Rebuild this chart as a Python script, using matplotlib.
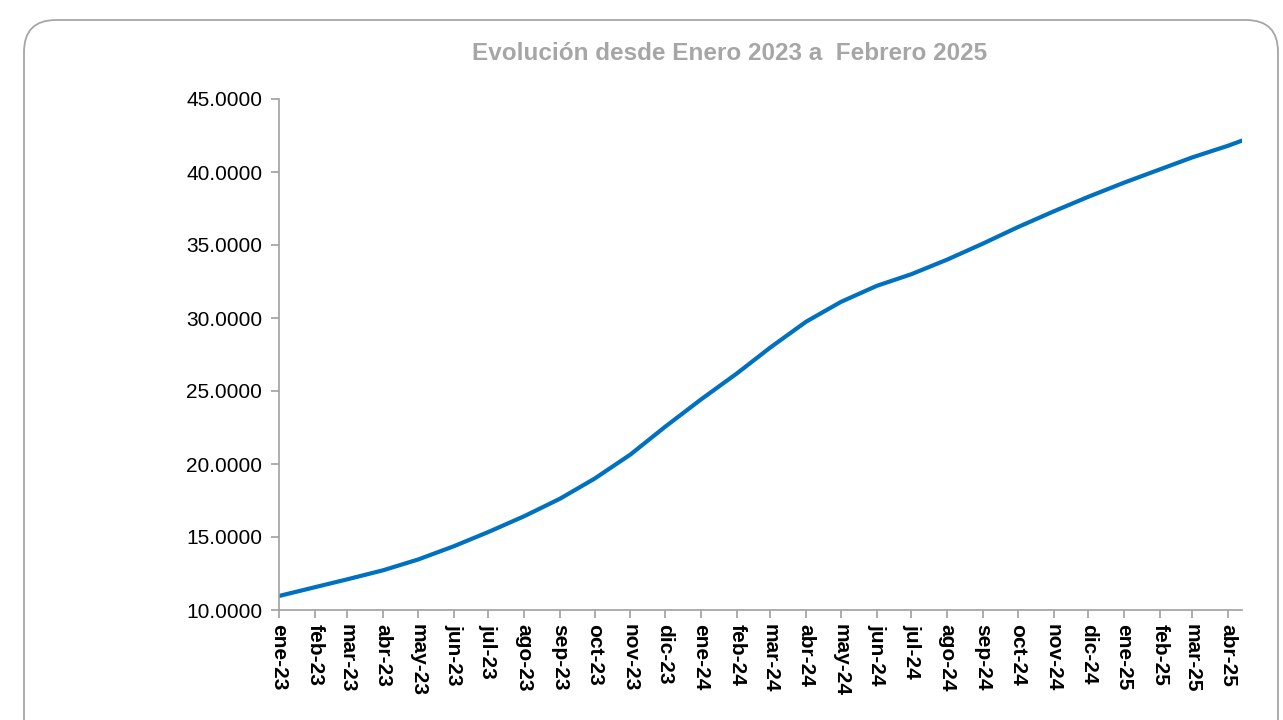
import matplotlib
matplotlib.use("Agg")
import matplotlib.pyplot as plt
import matplotlib.dates as mdates
from matplotlib.patches import FancyBboxPatch
from matplotlib.ticker import FuncFormatter
import datetime as dt

plt.rcParams['font.family'] = ['Liberation Sans', 'DejaVu Sans']

title = "Evolución desde Enero 2023 a  Febrero 2025"

dates = ["2023-01-01", "2023-02-01", "2023-03-01", "2023-04-01", "2023-05-01", "2023-06-01",
         "2023-07-01", "2023-08-01", "2023-09-01", "2023-10-01", "2023-11-01", "2023-12-01",
         "2024-01-01", "2024-02-01", "2024-03-01", "2024-04-01", "2024-05-01", "2024-06-01",
         "2024-07-01", "2024-08-01", "2024-09-01", "2024-10-01", "2024-11-01", "2024-12-01",
         "2025-01-01", "2025-02-01", "2025-03-01", "2025-04-01", "2025-04-13"]
values = [10.96, 11.56, 12.10, 12.72, 13.45, 14.36,
          15.34, 16.42, 17.62, 19.00, 20.65, 22.55,
          24.42, 26.20, 27.98, 29.75, 31.10, 32.20,
          33.00, 34.00, 35.10, 36.22, 37.30, 38.30,
          39.27, 40.18, 41.00, 41.80, 42.15]

month_abbr = ["ene", "feb", "mar", "abr", "may", "jun", "jul", "ago", "sep", "oct", "nov", "dic"]
y_ticks = [10, 15, 20, 25, 30, 35, 40, 45]

W, H = 1283, 720
fig = plt.figure(figsize=(W / 100, H / 100), dpi=100)

# background frame
bg = fig.add_axes([0, 0, 1, 1], zorder=-1)
bg.set_xlim(0, W)
bg.set_ylim(0, H)
bg.axis("off")
frame = FancyBboxPatch((24, -60), 1278 - 24, 700 + 60,
                       boxstyle="round,pad=0,rounding_size=32",
                       facecolor="white", edgecolor="#a6a6a6", linewidth=1.3)
bg.add_patch(frame)

x = [dt.datetime.strptime(d, "%Y-%m-%d") for d in dates]

ax = fig.add_axes([279 / W, 110 / H, (1242 - 279) / W, (610 - 99) / H])
ax.patch.set_alpha(0)
ax.plot(x, values, color="#0070C0", linewidth=3.0, solid_capstyle="round",
        solid_joinstyle="round")

ax.set_ylim(10, 45)
ax.set_yticks(y_ticks)
ax.yaxis.set_major_formatter(FuncFormatter(lambda v, p: f"{v:.4f}"))
ax.set_xlim(x[0], x[-1])

ticks = []
y0, m0 = 2023, 1
while (y0, m0) <= (2025, 4):
    ticks.append(dt.datetime(y0, m0, 1))
    m0 += 1
    if m0 > 12:
        m0 = 1
        y0 += 1
ax.set_xticks(ticks)
ax.set_xticklabels([f"{month_abbr[t.month - 1]}-{t.year % 100:02d}" for t in ticks],
                   rotation=-90, fontweight="bold", fontsize=15, color="black")

for s in ["top", "right"]:
    ax.spines[s].set_visible(False)
for s in ["left", "bottom"]:
    ax.spines[s].set_color("#a0a0a0")
    ax.spines[s].set_linewidth(1.2)
ax.tick_params(axis="both", color="#a0a0a0", length=6, width=1.2)
ax.tick_params(axis="y", labelsize=15, pad=6)
ax.tick_params(axis="x", pad=4)

fig.text(729.5 / W, 1 - 53 / H, title, ha="center", va="center",
         fontsize=17.5, fontweight="bold", color="#a6a6a6")

fig.savefig("out.png", dpi=100)
